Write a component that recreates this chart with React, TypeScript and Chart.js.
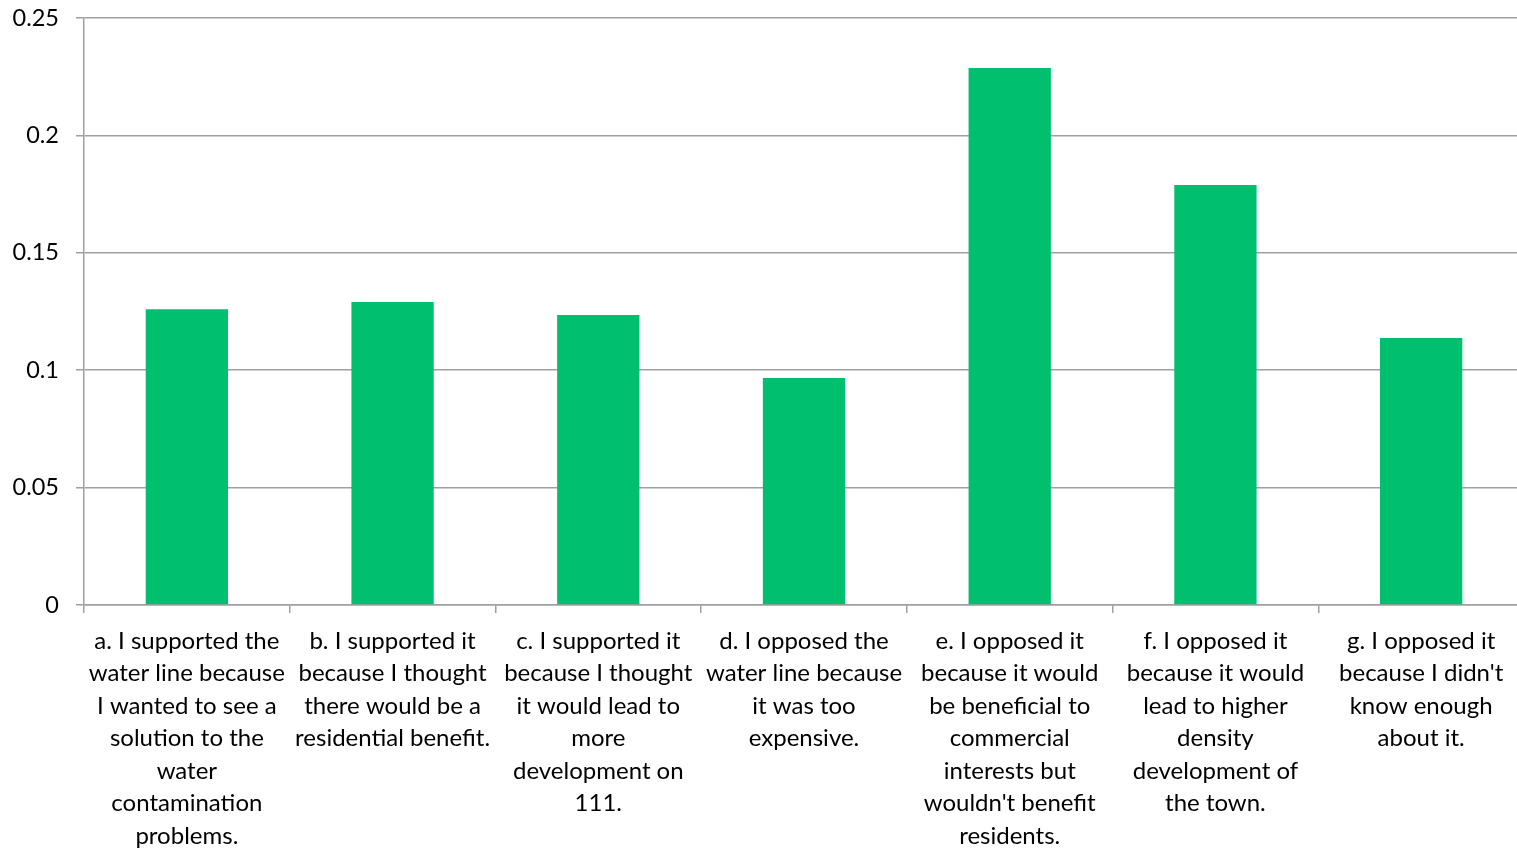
import React, { useEffect, useRef } from "react";
import { Chart, registerables } from "chart.js";

Chart.register(...registerables);

const categories: string[][] = [
  ["a. I supported the", "water line because", "I wanted to see a", "solution to the", "water", "contamination", "problems."],
  ["b. I supported it", "because I thought", "there would be a", "residential benefit."],
  ["c. I supported it", "because I thought", "it would lead to", "more", "development on", "111."],
  ["d. I opposed the", "water line because", "it was too", "expensive."],
  ["e. I opposed it", "because it would", "be beneficial to", "commercial", "interests but", "wouldn't benefit", "residents."],
  ["f. I opposed it", "because it would", "lead to higher", "density", "development of", "the town."],
  ["g. I opposed it", "because I didn't", "know enough", "about it."],
];

const values: number[] = [0.126, 0.129, 0.1235, 0.0967, 0.2287, 0.1789, 0.1137];

const yTicks: number[] = [0, 0.05, 0.1, 0.15, 0.2, 0.25];

export default function App() {
  const ref = useRef<HTMLCanvasElement | null>(null);
  useEffect(() => {
    if (!ref.current) return;
    const chart = new Chart(ref.current, {
      type: "bar",
      data: {
        labels: categories,
        datasets: [
          {
            data: values,
            backgroundColor: "#00BF6F",
            borderWidth: 0,
            barPercentage: 0.4,
            categoryPercentage: 1,
          },
        ],
      },
      options: {
        animation: false,
        responsive: false,
        maintainAspectRatio: false,
        layout: { padding: { top: 18, right: 0, left: 0, bottom: 0 } },
        plugins: { legend: { display: false }, tooltip: { enabled: false } },
        scales: {
          x: {
            afterFit: (s: any) => {
              s.height = 245;
              s.paddingLeft = 0;
              s.paddingRight = 0;
            },
            grid: {
              offset: true,
              drawOnChartArea: false,
              drawTicks: true,
              tickLength: 8,
              color: "#a0a0a0",
              lineWidth: 1.5,
            },
            border: { color: "#a0a0a0", width: 1.5 },
            ticks: {
              color: "#000",
              padding: 12,
              maxRotation: 0,
              autoSkip: false,
              font: { family: "Lato, 'Open Sans', sans-serif", size: 24, lineHeight: 1.354 },
            },
          },
          y: {
            min: 0,
            max: 0.25,
            afterFit: (s: any) => {
              s.width = 84;
              s.paddingTop = 0;
              s.paddingBottom = 0;
            },
            afterBuildTicks: (s: any) => {
              s.ticks = yTicks.map((v) => ({ value: v }));
            },
            grid: {
              color: "#a0a0a0",
              lineWidth: 1.5,
              drawTicks: true,
              tickLength: 8,
            },
            border: { color: "#a0a0a0", width: 1.5 },
            ticks: {
              color: "#000",
              padding: 17,
              callback: (v: any) => String(Number(v)),
              font: { family: "Lato, 'Open Sans', sans-serif", size: 23.5 },
            },
          },
        },
      },
    });
    return () => chart.destroy();
  }, []);
  return (
    <div style={{ position: "fixed", left: 0, top: 0, width: 1517, height: 850, background: "#fff", overflow: "hidden" }}>
      <canvas ref={ref} width={1524} height={850} style={{ width: 1524, height: 850 }} />
    </div>
  );
}
